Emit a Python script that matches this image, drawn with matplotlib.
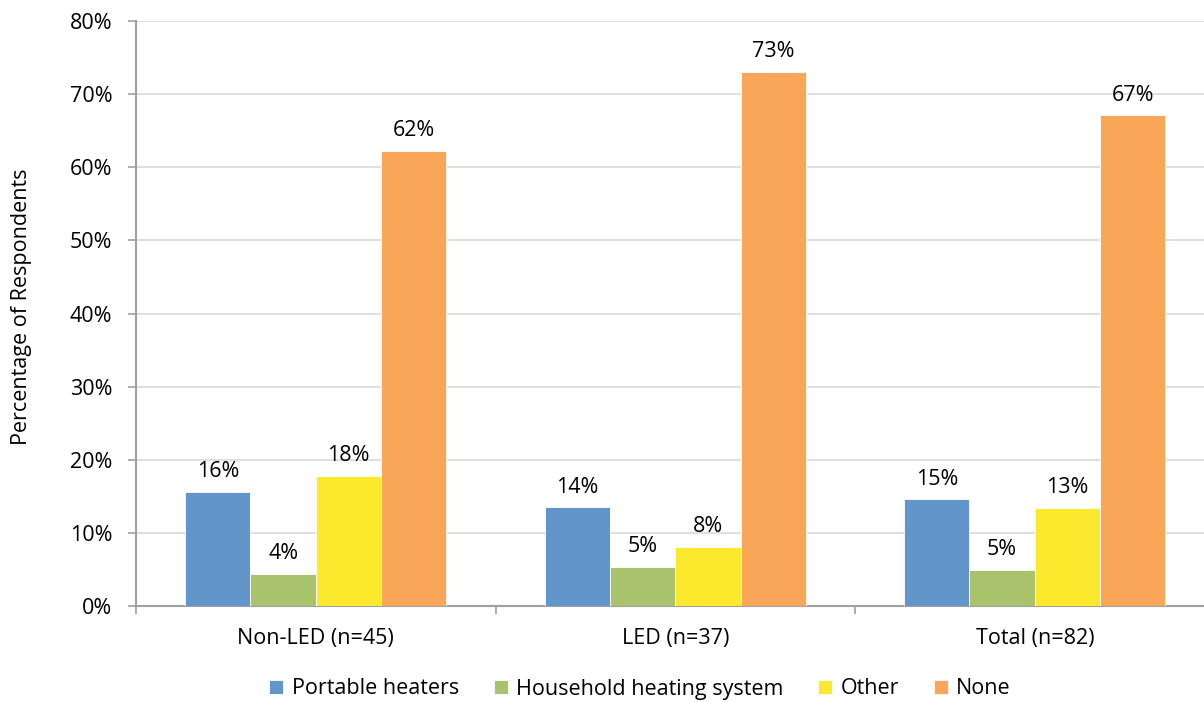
import numpy as np
import matplotlib.pyplot as plt
from matplotlib.ticker import FixedLocator, PercentFormatter

plt.rcParams['font.family'] = ['Open Sans', 'DejaVu Sans']

groups = ['Non-LED (n=45)', 'LED (n=37)', 'Total (n=82)']
series = ['Portable heaters', 'Household heating system', 'Other', 'None']
portable = [15.6, 13.5, 14.6]
household = [4.4, 5.4, 4.9]
other = [17.8, 8.1, 13.4]
none = [62.2, 73.0, 67.1]
colors = ['#6295C9', '#A9C26C', '#FCE92E', '#F9A659']

fig = plt.figure(figsize=(12.04, 7.02), dpi=100)
ax = fig.add_axes([136 / 1204, 1 - 606 / 702, 1078.5 / 1204, 585 / 702])

x = np.arange(len(groups))
w = 0.1817
for i, (name, vals) in enumerate(zip(series, [portable, household, other, none])):
    bars = ax.bar(x + (i - 1.5) * w, vals, w, color=colors[i], edgecolor='white',
                  linewidth=0.6, label=name, zorder=3)
    for b, v in zip(bars, vals):
        ax.annotate(f'{v:.0f}%', (b.get_x() + b.get_width() / 2, v),
                    xytext=(0, 7), textcoords='offset points',
                    ha='center', va='bottom', fontsize=15.5)

ax.set_xlim(-0.5, 2.5)
ax.set_ylim(0, 80)
ax.set_yticks(range(0, 81, 10))
ax.yaxis.set_major_formatter(PercentFormatter(decimals=0))
ax.grid(axis='y', color='#D9D9D9', linewidth=1.2, zorder=0)

ax.xaxis.set_major_locator(FixedLocator([-0.5, 0.5, 1.5, 2.5]))
ax.xaxis.set_minor_locator(FixedLocator(x))
ax.set_xticklabels([], minor=False)
ax.set_xticklabels(groups, minor=True)
ax.tick_params(axis='x', which='major', length=6, color='#A0A0A0', width=1.2)
ax.tick_params(axis='x', which='minor', length=0, pad=16, labelsize=15.5)
ax.tick_params(axis='y', length=6, color='#A0A0A0', width=1.2, pad=11, labelsize=15.5)

for s in ['top', 'right']:
    ax.spines[s].set_visible(False)
for s in ['left', 'bottom']:
    ax.spines[s].set_color('#A0A0A0')
    ax.spines[s].set_linewidth(1.5)

fig.text(22 / 1204, 1 - 307 / 702, 'Percentage of Respondents', rotation=90,
         ha='center', va='center', fontsize=15.5)

# legend sits at the very bottom edge, as in the reference
fig.legend(loc='center', bbox_to_anchor=(640 / 1204, 1 - 689 / 702), ncol=4,
           frameon=False, fontsize=15.5, handlelength=0.65, handleheight=0.65,
           handletextpad=0.4, columnspacing=1.6)

fig.savefig('out.png', dpi=100)
